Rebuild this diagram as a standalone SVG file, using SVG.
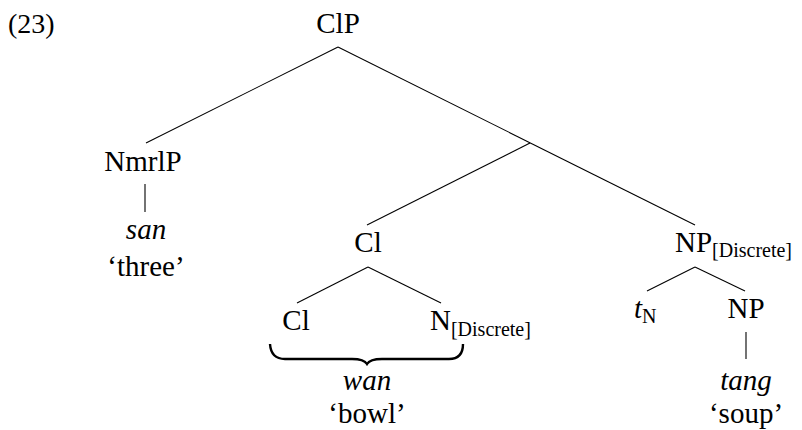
<svg xmlns="http://www.w3.org/2000/svg" width="802" height="430" viewBox="0 0 802 430">
<defs>
<path id="brace-shape" d="M270,344 Q271,359 285,359 L352,359 Q364,359 367,364 Q370,359 382,359 L449,359 Q463,359 463,344"/>
</defs>
<rect width="802" height="430" fill="#fff"/>
<text id="exnum" x="8" y="33" font-family="Liberation Serif" font-size="28">(23)</text>
<g id="connectors" stroke="#000" stroke-width="1.1" fill="none">
<line x1="338" y1="47" x2="146" y2="143"/>
<line x1="338" y1="47" x2="695" y2="225"/>
<line x1="530" y1="143" x2="367" y2="225"/>
<line x1="145" y1="184" x2="145" y2="212"/>
<line x1="368" y1="267" x2="297" y2="303"/>
<line x1="368" y1="267" x2="441" y2="303"/>
<line x1="695" y1="267" x2="647" y2="291"/>
<line x1="695" y1="267" x2="745" y2="291"/>
<line x1="746" y1="332" x2="746" y2="359"/>
<use id="brace" href="#brace-shape" stroke-width="2.4"/>
</g>
<g id="n-ClP"><text x="338" y="33" text-anchor="middle" font-family="Liberation Serif" font-size="29">ClP</text></g>
<g id="n-NmrlP"><text x="143" y="171" text-anchor="middle" font-family="Liberation Serif" font-size="29">NmrlP</text></g>
<g id="n-san"><text x="146" y="239" text-anchor="middle" font-family="Liberation Serif" font-size="29" font-style="italic">san</text><text x="146" y="276" text-anchor="middle" font-family="Liberation Serif" font-size="29">&#8216;three&#8217;</text></g>
<g id="n-Cl-bar"><text x="368" y="252" text-anchor="middle" font-family="Liberation Serif" font-size="29">Cl</text></g>
<g id="n-NP-discrete"><text x="675" y="252" font-family="Liberation Serif" font-size="29">NP<tspan font-size="20" dy="5">[Discrete]</tspan></text></g>
<g id="n-Cl"><text x="296" y="330" text-anchor="middle" font-family="Liberation Serif" font-size="29">Cl</text></g>
<g id="n-N-discrete"><text x="430" y="330" font-family="Liberation Serif" font-size="29">N<tspan font-size="20" dy="6">[Discrete]</tspan></text></g>
<g id="n-wan"><text x="367" y="390" text-anchor="middle" font-family="Liberation Serif" font-size="29" font-style="italic">wan</text><text x="367" y="423" text-anchor="middle" font-family="Liberation Serif" font-size="29">&#8216;bowl&#8217;</text></g>
<g id="n-tN"><text x="634" y="318" font-family="Liberation Serif" font-size="29"><tspan font-style="italic">t</tspan><tspan font-size="20" dy="5">N</tspan></text></g>
<g id="n-NP"><text x="746" y="318" text-anchor="middle" font-family="Liberation Serif" font-size="29">NP</text></g>
<g id="n-tang"><text x="746" y="390" text-anchor="middle" font-family="Liberation Serif" font-size="29" font-style="italic">tang</text><text x="746" y="423" text-anchor="middle" font-family="Liberation Serif" font-size="29">&#8216;soup&#8217;</text></g>
</svg>
